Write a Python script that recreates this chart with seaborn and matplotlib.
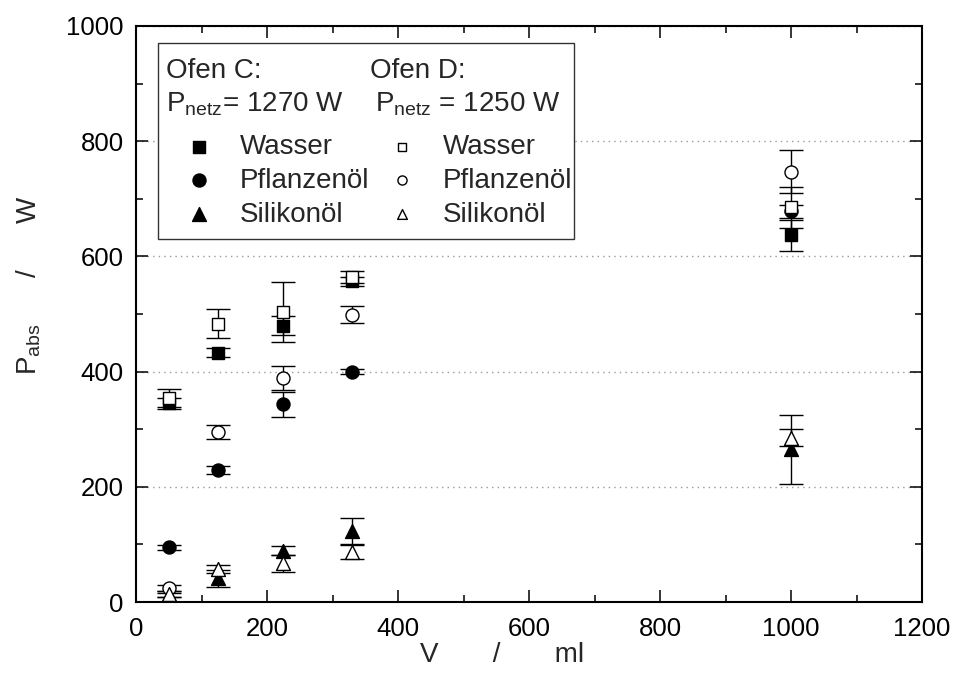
import matplotlib
matplotlib.use("Agg")
import matplotlib.pyplot as plt
from matplotlib.patches import Rectangle
from matplotlib.ticker import MultipleLocator
import seaborn as sns
import pandas as pd

# ---- data ----
volume = [50, 125, 225, 330, 1000]
wasser_C = [345, 433, 480, 557, 637]
wasser_C_err = [10, 8, 16, 8, 27]
wasser_D = [354, 483, 503, 564, 685]
wasser_D_err = [15, 25, 52, 10, 36]
pflanz_C = [95, 229, 343, 400, 678]
pflanz_C_err = [4, 7, 21, 4, 12]
pflanz_D = [24, 295, 389, 499, 747]
pflanz_D_err = [5, 12, 21, 15, 37]
silikon_C = [12, 41, 89, 123, 265]
silikon_C_err = [4, 15, 8, 22, 60]
silikon_D = [14, 57, 67, 87, 285]
silikon_D_err = [5, 7, 15, 12, 15]

x_ticks = [0, 200, 400, 600, 800, 1000, 1200]
y_ticks = [0, 200, 400, 600, 800, 1000]

sns.set_theme(style="ticks")
plt.rcParams['font.family'] = ['Liberation Sans', 'DejaVu Sans']
plt.rcParams['mathtext.fontset'] = 'custom'
plt.rcParams['mathtext.rm'] = 'Liberation Sans'
plt.rcParams['mathtext.it'] = 'Liberation Sans'

fig = plt.figure(figsize=(9.56, 6.92), dpi=100)
ax = fig.add_axes([136/956, 1 - 602/692, 786/956, 576/692])

series = [
    ("Wasser", "C", wasser_C, wasser_C_err, "s", True),
    ("Pflanzenöl", "C", pflanz_C, pflanz_C_err, "o", True),
    ("Silikonöl", "C", silikon_C, silikon_C_err, "^", True),
    ("Wasser", "D", wasser_D, wasser_D_err, "s", False),
    ("Pflanzenöl", "D", pflanz_D, pflanz_D_err, "o", False),
    ("Silikonöl", "D", silikon_D, silikon_D_err, "^", False),
]
marker_size = {"s": 68, "o": 88, "^": 100}

# error bars first
for name, ofen, vals, errs, mk, filled in series:
    ax.errorbar(volume, vals, yerr=errs, fmt='none', ecolor='black',
                elinewidth=1.0, capsize=8.5, capthick=1.0, zorder=2)

handles = {}
for name, ofen, vals, errs, mk, filled in series:
    df = pd.DataFrame({"V": volume, "P": vals})
    sns.scatterplot(data=df, x="V", y="P", ax=ax, marker=mk, s=marker_size[mk],
                    color="black" if filled else "white",
                    edgecolor="black", linewidth=1.0, zorder=3 if filled else 4)
    handles[(name, ofen)] = ax.collections[-1]

ax.set_xlim(0, 1200)
ax.set_ylim(0, 1000)
ax.set_xticks(x_ticks)
ax.set_yticks(y_ticks)
ax.xaxis.set_minor_locator(MultipleLocator(100))
ax.yaxis.set_minor_locator(MultipleLocator(100))
ax.tick_params(which='both', direction='in', top=True, right=True, colors='black', width=1.1)
ax.tick_params(which='major', length=8.5)
ax.tick_params(which='minor', length=5)
ax.tick_params(axis='x', which='major', labelsize=18.5, pad=11)
ax.tick_params(axis='y', which='major', labelsize=18.5, pad=9)
for sp in ax.spines.values():
    sp.set_visible(True)
    sp.set_linewidth(1.5)
    sp.set_color('black')
ax.yaxis.grid(True, which='major', linestyle=(0, (1, 3)), color='#999999', linewidth=1.0)
ax.set_axisbelow(True)

ax.set_xlabel("V       /       ml", fontsize=20)
ax.xaxis.set_label_coords(0.466, -0.07)
ax.set_ylabel("P$_{\\mathrm{abs}}$      /      W", fontsize=20)
ax.yaxis.set_label_coords(-0.118, 0.55)

# legend frame + headers
def ax_xy(px, py):
    return ((px - 136) / 786, (602 - py) / 576)

x0, y0 = ax_xy(158, 239)
x1, y1 = ax_xy(574, 43)
ax.add_patch(Rectangle((x0, y0), x1 - x0, y1 - y0, transform=ax.transAxes,
                       facecolor='white', edgecolor='#333333', linewidth=1.0, zorder=5))
hfs = 20
tx, ty = ax_xy(166, 71)
ax.text(tx, ty, "Ofen C:", transform=ax.transAxes, fontsize=hfs, va='center', ha='left', zorder=6)
tx, ty = ax_xy(370, 71)
ax.text(tx, ty, "Ofen D:", transform=ax.transAxes, fontsize=hfs, va='center', ha='left', zorder=6)
tx, ty = ax_xy(166, 104)
ax.text(tx, ty, "P$_{\\mathrm{netz}}$= 1270 W", transform=ax.transAxes, fontsize=hfs, va='center', ha='left', zorder=6)
tx, ty = ax_xy(375, 104)
ax.text(tx, ty, "P$_{\\mathrm{netz}}$ = 1250 W", transform=ax.transAxes, fontsize=hfs, va='center', ha='left', zorder=6)

names = ["Wasser", "Pflanzenöl", "Silikonöl"]
lab_fs = 20
bx, by = ax_xy(185, 134)
leg1 = ax.legend([handles[(n, "C")] for n in names], names, loc='upper left',
                 bbox_to_anchor=(bx, by), frameon=False, fontsize=lab_fs,
                 markerscale=1.0, handletextpad=0.975, labelspacing=0.28,
                 borderpad=0, borderaxespad=0, handlelength=1.0)
leg1.set_zorder(6)
ax.add_artist(leg1)
bx, by = ax_xy(388, 134)
leg2 = ax.legend([handles[(n, "D")] for n in names], names, loc='upper left',
                 bbox_to_anchor=(bx, by), frameon=False, fontsize=lab_fs,
                 markerscale=0.7, handletextpad=0.975, labelspacing=0.28,
                 borderpad=0, borderaxespad=0, handlelength=1.0)
leg2.set_zorder(6)

fig.savefig("out.png", dpi=100)
